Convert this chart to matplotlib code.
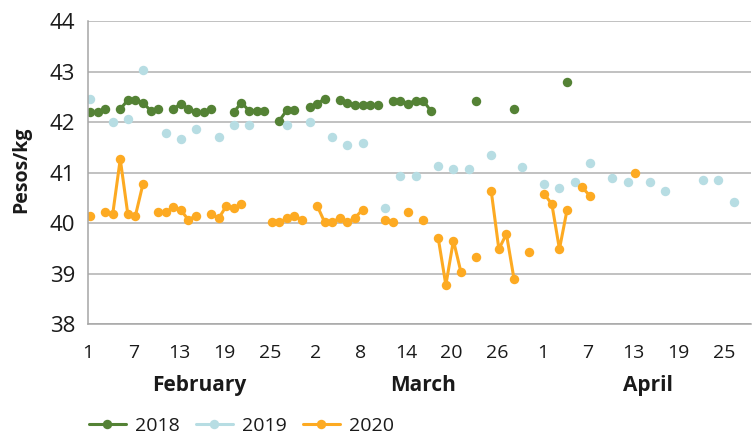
import numpy as np
import pandas as pd
import matplotlib
matplotlib.use("Agg")
import matplotlib.pyplot as plt
import matplotlib.transforms as mtransforms

plt.rcParams['font.family'] = ['Open Sans', 'DejaVu Sans']

# ---- data (day index: 0 = 1 February, 29 = 1 March, 60 = 1 April) ----
days_2018 = [0, 1, 2, 4, 5, 6, 7, 8, 9, 11, 12, 13, 14, 15, 16, 19, 20, 21, 22, 23,
             25, 26, 27, 29, 30, 31, 33, 34, 35, 36, 37, 38, 40, 41, 42, 43, 44, 45,
             51, 56, 63]
vals_2018 = [42.20, 42.20, 42.26, 42.26, 42.44, 42.44, 42.39, 42.23, 42.26, 42.26,
             42.37, 42.26, 42.20, 42.20, 42.26, 42.20, 42.39, 42.23, 42.23, 42.23,
             42.03, 42.24, 42.24, 42.31, 42.36, 42.47, 42.44, 42.39, 42.34, 42.34,
             42.34, 42.34, 42.43, 42.43, 42.37, 42.43, 42.43, 42.23, 42.43, 42.26,
             42.79]

days_2019 = [0, 3, 5, 7, 10, 12, 14, 17, 19, 21, 26, 29, 32, 34, 36, 39, 41, 43, 46,
             48, 50, 53, 57, 60, 62, 64, 66, 69, 71, 74, 76, 81, 83, 85]
vals_2019 = [42.47, 42.00, 42.06, 43.03, 41.79, 41.67, 41.87, 41.71, 41.95, 41.95,
             41.95, 42.00, 41.71, 41.55, 41.58, 40.30, 40.94, 40.94, 41.14, 41.07,
             41.07, 41.35, 41.11, 40.78, 40.70, 40.82, 41.19, 40.90, 40.82, 40.82,
             40.63, 40.86, 40.86, 40.43]

days_2020 = [0, 2, 3, 4, 5, 6, 7, 9, 10, 11, 12, 13, 14, 16, 17, 18, 19, 20, 24, 25,
             26, 27, 28, 30, 31, 32, 33, 34, 35, 36, 39, 40, 42, 44, 46, 47, 48, 49,
             51, 53, 54, 55, 56, 58, 60, 61, 62, 63, 65, 66, 72]
vals_2020 = [40.15, 40.22, 40.18, 41.27, 40.18, 40.15, 40.78, 40.22, 40.22, 40.32,
             40.26, 40.07, 40.15, 40.18, 40.10, 40.34, 40.30, 40.38, 40.02, 40.02,
             40.10, 40.15, 40.07, 40.35, 40.02, 40.02, 40.11, 40.02, 40.11, 40.27,
             40.07, 40.02, 40.22, 40.07, 39.70, 38.78, 39.66, 39.03, 39.34, 40.63,
             39.49, 39.79, 38.90, 39.43, 40.58, 40.38, 39.49, 40.26, 40.71, 40.55,
             41.00]

tick_days = [0, 6, 12, 18, 24, 30, 36, 42, 48, 54, 60, 66, 72, 78, 84]
tick_labels = ['1', '7', '13', '19', '25', '2', '8', '14', '20', '26',
               '1', '7', '13', '19', '25']
months = ['February', 'March', 'April']
month_centers = [14.4, 44.0, 73.7]

series = [('2018', days_2018, vals_2018, '#548235'),
          ('2019', days_2019, vals_2019, '#B7DDE3'),
          ('2020', days_2020, vals_2020, '#FDAA22')]

# ---- figure ----
W, H = 752, 436
fig = plt.figure(figsize=(W / 100, H / 100), dpi=100)
x0, x1, ytop, ybot = 87.7, 751.0, 21.2, 324.4
ax = fig.add_axes([x0 / W, 1 - ybot / H, (x1 - x0) / W, (ybot - ytop) / H])

full_index = np.arange(0, 88)
for name, d, v, c in series:
    s = pd.Series(v, index=d).reindex(full_index)
    ax.plot(s.index, s.values, color=c, lw=2.2, marker='o', ms=6.8,
            markeredgewidth=0, label=name, solid_capstyle='round')

ax.set_xlim(-0.3, 87.3)
ax.set_ylim(38, 44)
ax.set_yticks(np.arange(38, 45, 1))
ax.yaxis.grid(True, color='#B0B0B0', lw=1.1)
ax.set_axisbelow(True)

ax.set_xticks([t - 0.25 for t in tick_days])
ax.set_xticklabels(tick_labels)
ax.tick_params(axis='x', length=0, pad=14, labelsize=14, colors='#1a1a1a')
ax.tick_params(axis='y', length=0, pad=9, labelsize=16, colors='#1a1a1a')

for side in ['top', 'right']:
    ax.spines[side].set_visible(False)
for side in ['left', 'bottom']:
    ax.spines[side].set_color('#A6A6A6')
    ax.spines[side].set_linewidth(1.1)

trans = mtransforms.blended_transform_factory(ax.transData, ax.transAxes)
for m, c in zip(months, month_centers):
    ax.text(c, (ybot - 385) / (ybot - ytop), m, transform=trans, ha='center',
            va='center', fontsize=15, fontweight='bold', color='#1a1a1a')

fig.text(21 / W, 1 - 170 / H, 'Pesos/kg', rotation=90, ha='center', va='center',
         fontsize=14, fontweight='bold', color='#1a1a1a')

leg = fig.legend(loc='center left', bbox_to_anchor=(89 / W, 1 - 426 / H),
                 ncol=3, frameon=False, fontsize=14, handlelength=1.9,
                 handletextpad=0.45, columnspacing=0.85, borderpad=0,
                 borderaxespad=0)
for t in leg.get_texts():
    t.set_color('#1a1a1a')

fig.savefig('out.png', dpi=100)
